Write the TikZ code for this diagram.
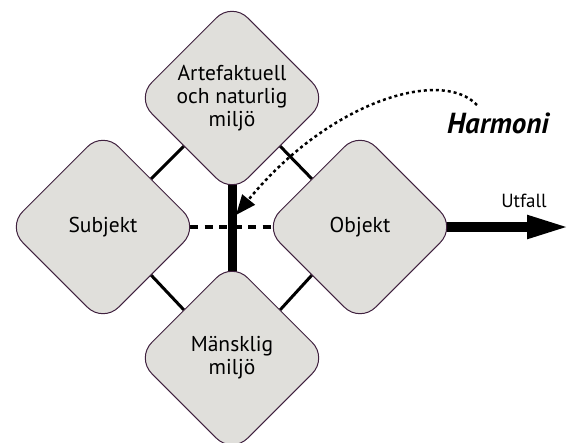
\documentclass[tikz,border=0pt]{standalone}
\usepackage{fontspec}
\setmainfont{PT Sans}
\usetikzlibrary{shapes.geometric,arrows.meta,backgrounds}

\definecolor{boxfill}{HTML}{E0DFDB}
\definecolor{boxline}{HTML}{40213F}

\tikzset{
  box/.style={diamond, aspect=1, draw=boxline, fill=boxfill, line width=1pt,
    rounded corners=22pt, minimum size=192pt, inner sep=0pt, align=center,
    font=\fontsize{21.5}{23}\selectfont},
  link/.style={line width=3pt},
}

\begin{document}
\begin{tikzpicture}[x=1pt,y=-1pt]
\useasboundingbox (0,0) rectangle (572,442);
% the four rounded diamonds
\node[box] (top)  at (232,98)  {Artefaktuell\\och naturlig\\miljö};
\node[box] (subj) at (103,227) {Subjekt};
\node[box] (obj)  at (360,227) {Objekt};
\node[box] (bot)  at (232,358) {Mänsklig\\miljö};

% free ends of the arrows
\coordinate (outtip) at (571,227);
\coordinate (hstart) at (477,105);
\coordinate (htip) at (236,215);

% labels
\node[font=\fontsize{19}{21}\selectfont] (utfall) at (524,201) {Utfall};
\node[font=\fontsize{29}{31}\selectfont\bfseries\itshape] (harmoni) at (498,123) {Harmoni};

% everything that runs into the diamonds goes behind them
\begin{pgfonlayer}{background}
  % thin links between neighbours
  \draw[link] (subj.north east) -- (top.south west);
  \draw[link] (top.south east) -- (obj.north west);
  \draw[link] (subj.south east) -- (bot.north west);
  \draw[link] (bot.north east) -- (obj.south west);
  % thick vertical bar and dashed cross bar
  \draw[line width=9pt] (top.center) -- (bot.center);
  \draw[line width=4.5pt, dash pattern=on 8pt off 6.5pt] (subj.center) -- (obj.center);
  % outcome arrow
  \draw[line width=10pt, -{Triangle[length=44pt,width=21pt]}] (obj.center) -- (outtip);
\end{pgfonlayer}

% dotted arrow from Harmoni
\draw[line width=2.5pt, dash pattern=on 3pt off 3pt, -{Triangle[length=20pt,width=16pt]}]
  (hstart) .. controls (442,68) and (330,100) .. (htip);
\end{tikzpicture}
\end{document}
